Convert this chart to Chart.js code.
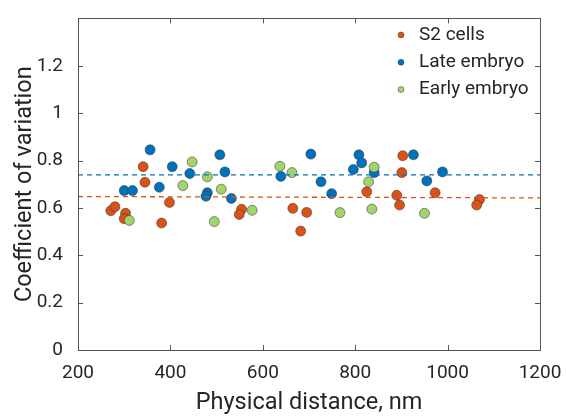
<!DOCTYPE html>
<html>
<head>
<meta charset="utf-8">
<script src="https://cdn.jsdelivr.net/npm/chart.js@4.4.1/dist/chart.umd.min.js"></script>
<style>
  html, body { margin: 0; padding: 0; background: #fff; }
  #wrap { width: 566px; height: 417px; }
</style>
</head>
<body>
<div id="wrap"><canvas id="cv" width="566" height="417"></canvas></div>
<script>
// values
const s2X = [271, 280, 303, 300, 341, 345, 381, 398, 554, 549, 665, 695, 682, 825, 903, 901, 890, 896, 973, 1069, 1063];
const s2Y = [0.588, 0.605, 0.577, 0.554, 0.774, 0.708, 0.536, 0.623, 0.594, 0.572, 0.598, 0.581, 0.502, 0.668, 0.820, 0.749, 0.653, 0.612, 0.664, 0.635, 0.612];

const lateX = [300, 318, 356, 376, 404, 442, 507, 518, 480, 477, 532, 639, 704, 726, 749, 808, 814, 796, 841, 926, 955, 989];
const lateY = [0.673, 0.673, 0.845, 0.687, 0.774, 0.745, 0.824, 0.752, 0.664, 0.649, 0.640, 0.733, 0.827, 0.710, 0.660, 0.824, 0.790, 0.762, 0.749, 0.824, 0.714, 0.752];

const earlyX = [311, 447, 427, 480, 510, 495, 577, 637, 663, 767, 841, 829, 836, 950];
const earlyY = [0.547, 0.794, 0.694, 0.731, 0.679, 0.542, 0.590, 0.776, 0.749, 0.580, 0.772, 0.710, 0.595, 0.577];

// dashed average lines (ends at x = 200 and 1200)
const lineX = [200, 1200];
const s2Line = [0.648, 0.642];
const lateLine = [0.739, 0.739];

const xTicks = [200, 400, 600, 800, 1000, 1200];
const yTicks = [0, 0.2, 0.4, 0.6, 0.8, 1, 1.2];

const orange = '#D95319';
const blue = '#0072BD';
const green = '#A2D36C';
const edge = 'rgba(50,50,50,0.75)';

function pts(xs, ys) {
    return xs.map((x, i) => ({ x: x, y: ys[i] }));
}

const labels = ['S2 cells', 'Late embryo', 'Early embryo'];
const colors = [orange, blue, green];

// box around plot with inward ticks, and the legend
const boxPlugin = {
    id: 'box',
    afterDraw(chart) {
        const ctx = chart.ctx;
        const a = chart.chartArea;
        const xs = chart.scales.x;
        const ys = chart.scales.y;
        ctx.save();
        ctx.strokeStyle = '#555';
        ctx.lineWidth = 1;
        ctx.strokeRect(Math.round(a.left) + 0.5, Math.round(a.top) + 0.5, Math.round(a.right - a.left), Math.round(a.bottom - a.top));
        ctx.beginPath();
        xTicks.forEach(v => {
            const px = Math.round(xs.getPixelForValue(v)) + 0.5;
            ctx.moveTo(px, a.bottom); ctx.lineTo(px, a.bottom - 5);
            ctx.moveTo(px, a.top); ctx.lineTo(px, a.top + 5);
        });
        yTicks.forEach(v => {
            const py = Math.round(ys.getPixelForValue(v)) + 0.5;
            ctx.moveTo(a.left, py); ctx.lineTo(a.left + 5, py);
            ctx.moveTo(a.right, py); ctx.lineTo(a.right - 5, py);
        });
        ctx.stroke();

        // legend
        ctx.font = '19px Roboto';
        ctx.textBaseline = 'middle';
        labels.forEach((t, i) => {
            const y = 35 + i * 27.3;
            ctx.beginPath();
            ctx.arc(401, y, 3, 0, Math.PI * 2);
            ctx.fillStyle = colors[i];
            ctx.fill();
            ctx.lineWidth = 0.6;
            ctx.strokeStyle = edge;
            ctx.stroke();
            ctx.fillStyle = '#262626';
            ctx.fillText(t, 419, y);
        });
        ctx.restore();
    }
};

new Chart(document.getElementById('cv'), {
    type: 'scatter',
    data: {
        datasets: [
            {
                type: 'line', label: 'S2 mean', data: pts(lineX, s2Line),
                borderColor: orange, borderWidth: 1.3, borderDash: [5, 4],
                pointRadius: 0, fill: false, order: 0
            },
            {
                type: 'line', label: 'Late mean', data: pts(lineX, lateLine),
                borderColor: blue, borderWidth: 1.3, borderDash: [5, 4],
                pointRadius: 0, fill: false, order: 0
            },
            {
                label: labels[2], data: pts(earlyX, earlyY),
                backgroundColor: green, borderColor: edge, borderWidth: 0.7,
                pointRadius: 5, order: 1
            },
            {
                label: labels[1], data: pts(lateX, lateY),
                backgroundColor: blue, borderColor: edge, borderWidth: 0.7,
                pointRadius: 5, order: 2
            },
            {
                label: labels[0], data: pts(s2X, s2Y),
                backgroundColor: orange, borderColor: edge, borderWidth: 0.7,
                pointRadius: 5, order: 3
            }
        ]
    },
    options: {
        responsive: false,
        animation: false,
        layout: { padding: { left: 0, right: 26, top: 10, bottom: 0 } },
        plugins: {
            legend: { display: false },
            tooltip: { enabled: false }
        },
        scales: {
            x: {
                type: 'linear',
                min: 200, max: 1200,
                afterBuildTicks: s => { s.ticks = xTicks.map(v => ({ value: v })); },
                afterFit: s => { s.height = 67; },
                grid: { display: false },
                border: { display: false },
                ticks: {
                    color: '#262626', font: { family: 'Roboto', size: 19 }, padding: 4, maxRotation: 0,
                    callback: v => String(v)
                },
                title: {
                    display: true, text: 'Physical distance, nm',
                    color: '#262626', font: { family: 'Roboto', size: 23.5 }, padding: { top: 0, bottom: 0 }
                }
            },
            y: {
                min: 0, max: 1.4,
                afterBuildTicks: s => { s.ticks = yTicks.map(v => ({ value: v })); },
                afterFit: s => { s.width = 78; },
                grid: { display: false },
                border: { display: false },
                ticks: {
                    color: '#262626', font: { family: 'Roboto', size: 19 }, padding: 7,
                    callback: v => String(Math.round(v * 10) / 10)
                },
                title: {
                    display: true, text: 'Coefficient of variation',
                    color: '#262626', font: { family: 'Roboto', size: 23.5 }, padding: { top: 11, bottom: 0 }
                }
            }
        }
    },
    plugins: [boxPlugin]
});
</script>
</body>
</html>
